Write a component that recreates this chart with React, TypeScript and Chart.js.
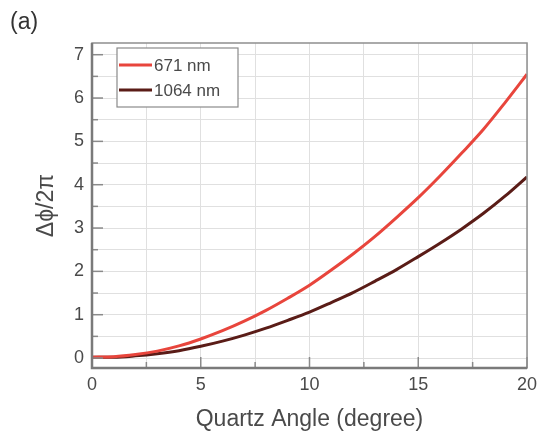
import React, { useEffect, useRef } from "react";
import { Chart, registerables } from "chart.js";

Chart.register(...registerables);

const angles = [0, 1, 2, 3, 4, 5, 6, 7, 8, 9, 10, 11, 12, 13, 14, 15, 16, 17, 18, 19, 20];
const phase671 = [0.02, 0.03, 0.08, 0.16, 0.28, 0.44, 0.63, 0.85, 1.1, 1.38, 1.68, 2.03, 2.4, 2.8, 3.24, 3.7, 4.2, 4.73, 5.28, 5.9, 6.55];
const phase1064 = [0.02, 0.02, 0.05, 0.1, 0.17, 0.27, 0.39, 0.53, 0.69, 0.87, 1.06, 1.28, 1.51, 1.77, 2.04, 2.34, 2.65, 2.98, 3.34, 3.74, 4.18];
const xGrid = [0, 2.5, 5, 7.5, 10, 12.5, 15, 17.5, 20];
const yGrid = [0, 0.5, 1, 1.5, 2, 2.5, 3, 3.5, 4, 4.5, 5, 5.5, 6, 6.5, 7];
const seriesLabels = ["671 nm", "1064 nm"];
const seriesColors = ["#e8453c", "#5a1c17"];

const FONT = "'Liberation Sans', Arial, Helvetica, sans-serif";
const TEXT = "#4a4a4a";

const framePlugin = {
  id: "framePlugin",
  afterDraw(chart: any) {
    const { ctx, chartArea: a, scales } = chart;
    const xs = scales.x;
    const ys = scales.y;
    ctx.save();
    ctx.strokeStyle = "#8a8a8a";
    ctx.lineWidth = 1.5;
    xGrid.forEach((v) => {
      const px = xs.getPixelForValue(v);
      const len = v % 5 === 0 ? 11 : 6;
      ctx.beginPath();
      ctx.moveTo(px, a.bottom);
      ctx.lineTo(px, a.bottom - len);
      ctx.stroke();
    });
    yGrid.forEach((v) => {
      const py = ys.getPixelForValue(v);
      const len = v % 1 === 0 ? 11 : 6;
      ctx.beginPath();
      ctx.moveTo(a.left, py);
      ctx.lineTo(a.left + len, py);
      ctx.stroke();
    });
    ctx.strokeStyle = "#8f8f8f";
    ctx.lineWidth = 1.5;
    ctx.strokeRect(a.left, a.top, a.right - a.left, a.bottom - a.top);
    ctx.strokeStyle = "#7a7a7a";
    ctx.lineWidth = 2.5;
    ctx.beginPath();
    ctx.moveTo(a.left, a.top);
    ctx.lineTo(a.left, a.bottom);
    ctx.lineTo(a.right, a.bottom);
    ctx.stroke();

    const lx = a.left + 25;
    const ly = a.top + 5;
    const lw = 121;
    const lh = 59;
    ctx.fillStyle = "#ffffff";
    ctx.fillRect(lx, ly, lw, lh);
    ctx.strokeStyle = "#8a8a8a";
    ctx.lineWidth = 1.2;
    ctx.strokeRect(lx, ly, lw, lh);
    ctx.font = `17px ${FONT}`;
    ctx.textBaseline = "middle";
    ctx.textAlign = "left";
    chart.data.datasets.forEach((ds: any, i: number) => {
      const yy = ly + 17 + i * 25;
      ctx.strokeStyle = ds.borderColor;
      ctx.lineWidth = 3;
      ctx.beginPath();
      ctx.moveTo(lx + 2, yy);
      ctx.lineTo(lx + 35, yy);
      ctx.stroke();
      ctx.fillStyle = TEXT;
      ctx.fillText(ds.label, lx + 37, yy + 1);
    });

    ctx.font = `23px ${FONT}`;
    ctx.fillStyle = "#333";
    ctx.textBaseline = "middle";
    ctx.fillText("(a)", 10, 23);
    ctx.restore();
  },
};

export default function App() {
  const ref = useRef<HTMLCanvasElement | null>(null);
  useEffect(() => {
    if (!ref.current) return;
    const chart = new Chart(ref.current, {
      type: "line",
      data: {
        labels: angles,
        datasets: [
          {
            label: seriesLabels[0],
            data: angles.map((x, i) => ({ x, y: phase671[i] })),
            borderColor: seriesColors[0],
            backgroundColor: seriesColors[0],
            borderWidth: 3,
            pointRadius: 0,
            cubicInterpolationMode: "monotone",
          },
          {
            label: seriesLabels[1],
            data: angles.map((x, i) => ({ x, y: phase1064[i] })),
            borderColor: seriesColors[1],
            backgroundColor: seriesColors[1],
            borderWidth: 3,
            pointRadius: 0,
            cubicInterpolationMode: "monotone",
          },
        ],
      },
      options: {
        responsive: false,
        animation: false,
        layout: { padding: { top: 43, right: 11, left: 0, bottom: 0 } },
        plugins: { legend: { display: false }, tooltip: { enabled: false } },
        scales: {
          x: {
            type: "linear",
            min: 0,
            max: 20,
            afterBuildTicks: (s: any) => {
              s.ticks = xGrid.map((v) => ({ value: v }));
            },
            afterFit: (s: any) => {
              s.height = 65;
              s.paddingLeft = 0;
              s.paddingRight = 0;
            },
            grid: { color: "#e0e0e0", lineWidth: 1, drawTicks: false },
            border: { display: false },
            ticks: {
              padding: 6,
              maxRotation: 0,
              autoSkip: false,
              color: TEXT,
              font: { family: FONT, size: 18 },
              callback: (v: any) => (Number(v) % 5 === 0 ? String(v) : ""),
            },
            title: {
              display: true,
              text: "Quartz Angle (degree)",
              color: TEXT,
              font: { family: FONT, size: 23 },
              padding: { top: 1, bottom: 0 },
            },
          },
          y: {
            type: "linear",
            min: -0.23,
            max: 7.27,
            afterBuildTicks: (s: any) => {
              s.ticks = yGrid.map((v) => ({ value: v }));
            },
            afterFit: (s: any) => {
              s.width = 92;
            },
            grid: { color: "#e0e0e0", lineWidth: 1, drawTicks: false },
            border: { display: false },
            ticks: {
              padding: 8,
              autoSkip: false,
              color: TEXT,
              font: { family: FONT, size: 18 },
              callback: (v: any) => (Number(v) % 1 === 0 ? String(v) : ""),
            },
            title: {
              display: true,
              text: "Δϕ/2π",
              color: TEXT,
              font: { family: FONT, size: 23 },
              padding: { top: 33, bottom: 4 },
            },
          },
        },
      },
      plugins: [framePlugin],
    } as any);
    return () => chart.destroy();
  }, []);
  return (
    <div style={{ position: "absolute", left: 0, top: 0, width: 538, height: 433, background: "#fff" }}>
      <canvas ref={ref} width={538} height={433} style={{ display: "block" }} />
    </div>
  );
}
